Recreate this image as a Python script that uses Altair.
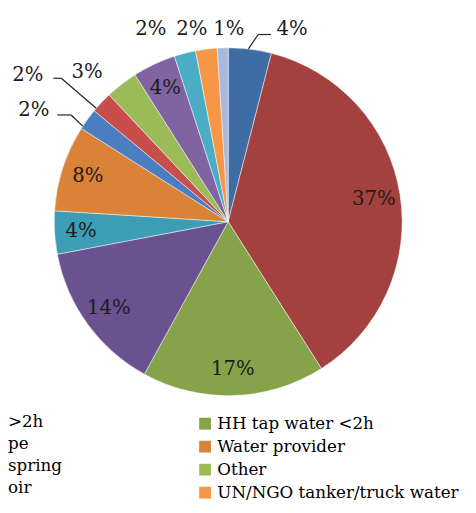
import math
import altair as alt
import pandas as pd

# ---- data -------------------------------------------------------------
categories = [
    "Bottled water", "HH tap water >2h", "HH tap water <2h", "Public tap",
    "Standpipe", "Water provider", "Well", "Spring", "Other",
    "Rain water", "Reservoir", "UN/NGO tanker/truck water", "Neighbours",
]
shares = [4, 37, 17, 14, 4, 8, 2, 2, 3, 4, 2, 2, 1]
colors = [
    "#3E6CA4", "#A3413E", "#86A24A", "#6A5290", "#3C9DB4", "#DA8237",
    "#4A7EC0", "#C84E4B", "#9BBB59", "#8064A2", "#4BACC6", "#F79646", "#A7B9DC",
]
legend_values = ["HH tap water <2h", "Water provider", "Other", "UN/NGO tanker/truck water"]
legend_fragments = [">2h", "pe", "spring", "oir"]   # clipped left column of the legend

inside_idx = [1, 2, 3, 4, 5, 9]
# outside labels: (index, dx, dy) nudges from the radial position
outside = [(0, 40, 2), (12, 7, 4), (11, -12, 2), (10, -29, -2), (8, -21, 6), (7, -58, -12), (6, -36, 4)]

# ---- layout -----------------------------------------------------------
W, H = 448, 426
CX, CY = W / 2, H / 2
R = 177
R_IN = 150
R_OUT = 200
FONT = "DejaVu Serif"
LAB_SIZE = 20
LEG_SIZE = 17
LEG_X, LEG_Y = 192, 410
ROW_H = 22.4

df = pd.DataFrame({"cat": categories, "share": shares, "idx": list(range(len(shares)))})
df["label"] = df["share"].astype(str) + "%"

theta_scale = alt.Scale(domain=[0, 100], range=[0, 2 * math.pi])

base = alt.Chart(df).transform_window(
    cum="sum(share)", sort=[alt.SortField("idx")], frame=[None, 0]
).transform_calculate(
    start="datum.cum - datum.share", mid="datum.cum - datum.share / 2"
)

arcs = base.mark_arc(outerRadius=R, stroke="white", strokeWidth=0.5).encode(
    theta=alt.Theta("start:Q", scale=theta_scale),
    theta2="cum:Q",
    color=alt.Color(
        "cat:N",
        scale=alt.Scale(domain=categories, range=colors),
        legend=alt.Legend(
            title=None, orient="none", legendX=LEG_X, legendY=LEG_Y,
            values=legend_values, symbolType="square", symbolSize=144,
            symbolStrokeWidth=0, symbolOpacity=1, labelFont=FONT,
            labelFontSize=LEG_SIZE, labelColor="#000000", labelOffset=4,
            labelLimit=400, rowPadding=ROW_H - LEG_SIZE, padding=0, direction="vertical",
        ),
    ),
    order=alt.Order("idx:Q"),
)

inside_text = base.transform_filter(
    alt.FieldOneOfPredicate(field="idx", oneOf=inside_idx)
).mark_text(radius=R_IN, font=FONT, fontSize=LAB_SIZE, color="#1c1c1c").encode(
    theta=alt.Theta("mid:Q", scale=theta_scale), text="label:N"
)

layers = [arcs, inside_text]
cum = [sum(shares[: i + 1]) for i in range(len(shares))]


def polar(r, pct):
    a = pct / 100 * 2 * math.pi
    return CX + r * math.sin(a), CY - r * math.cos(a)


label_pos = {}
for i, dx, dy in outside:
    layers.append(
        base.transform_filter(alt.datum.idx == i)
        .mark_text(radius=R_OUT, dx=dx, dy=dy, font=FONT, fontSize=LAB_SIZE, color="#1c1c1c")
        .encode(theta=alt.Theta("mid:Q", scale=theta_scale), text="label:N")
    )
    mid = cum[i] - shares[i] / 2
    px, py = polar(R_OUT, mid)
    label_pos[i] = (px + dx, py + dy)

# leader lines (start on the slice edge, elbow and end next to the label)
segs = []
for i, pct, elbow, end in [
    (0, 1.86, (-34.5, 6), (-21.5, 6)),
    (7, 86.3, (34, 3), (26, 3)),
    (6, 84.25, (38, 5), (24, 5)),
]:
    sx, sy = polar(R, pct)
    lx, ly = label_pos[i]
    ex, ey = lx + elbow[0], ly + elbow[1]
    tx, ty = lx + end[0], ly + end[1]
    segs.append({"x": sx, "y": sy, "x2": ex, "y2": ey})
    segs.append({"x": ex, "y": ey, "x2": tx, "y2": ty})

leaders = alt.Chart(pd.DataFrame(segs)).mark_rule(color="#222222", strokeWidth=1.2).encode(
    x=alt.X("x:Q", scale=None, axis=None),
    y=alt.Y("y:Q", scale=None, axis=None),
    x2="x2:Q",
    y2="y2:Q",
)
layers.append(leaders)

frag_df = pd.DataFrame({"t": legend_fragments, "row": list(range(len(legend_fragments)))})
frags = alt.Chart(frag_df).transform_calculate(
    yy=f"{LEG_Y + 7} + datum.row * {ROW_H}"
).mark_text(align="left", baseline="middle", font=FONT, fontSize=LEG_SIZE, color="#000000").encode(
    x=alt.value(0),
    y=alt.Y("yy:Q", scale=None, axis=None),
    text="t:N",
)
layers.append(frags)

chart = alt.layer(*layers).properties(
    width=W, height=H,
    autosize=alt.AutoSizeParams(type="none"),
    padding={"left": 0, "top": 0, "right": 20, "bottom": 79},
).configure_view(stroke=None)

chart.save("out.html", embed_options={"renderer": "svg", "actions": False})
